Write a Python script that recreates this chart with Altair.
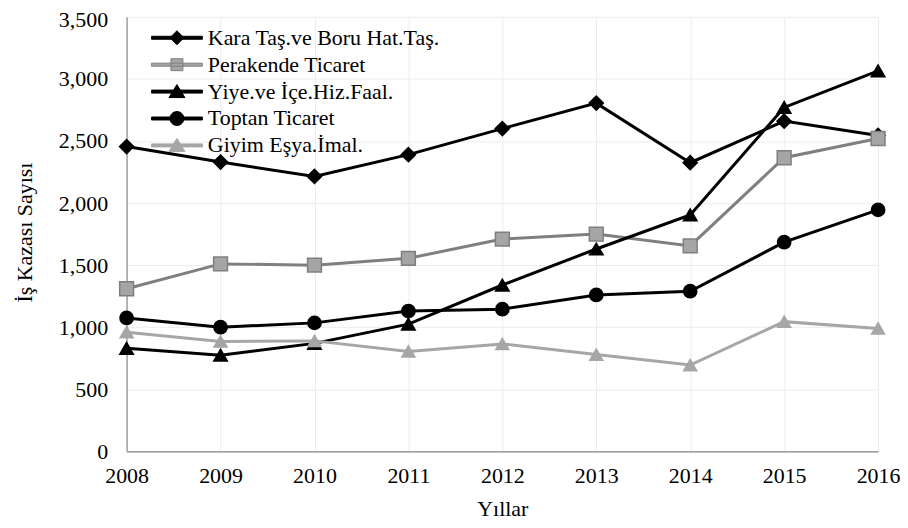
import altair as alt
import pandas as pd

years = [2008, 2009, 2010, 2011, 2012, 2013, 2014, 2015, 2016]
series_names = [
    "Kara Taş.ve Boru Hat.Taş.",
    "Perakende Ticaret",
    "Yiye.ve İçe.Hiz.Faal.",
    "Toptan Ticaret",
    "Giyim Eşya.İmal.",
]
kara = [2455, 2330, 2215, 2390, 2600, 2805, 2325, 2660, 2545]
perakende = [1310, 1510, 1500, 1555, 1710, 1750, 1655, 2365, 2520]
yiye = [830, 775, 870, 1025, 1340, 1630, 1905, 2770, 3065]
toptan = [1075, 1000, 1035, 1130, 1145, 1260, 1290, 1685, 1945]
giyim = [960, 885, 890, 805, 865, 780, 695, 1045, 990]
y_ticks = [0, 500, 1000, 1500, 2000, 2500, 3000, 3500]

line_colors = ["#000000", "#7f7f7f", "#000000", "#000000", "#a6a6a6"]
marker_fill = ["#000000", "#a5a5a5", "#000000", "#000000", "#a6a6a6"]
marker_stroke = ["#000000", "#7f7f7f", "#000000", "#000000", "#a6a6a6"]
marker_shapes = ["diamond", "square", "triangle-up", "circle", "triangle-up"]
marker_sizes = [200, 170, 300, 220, 250]

seg = "M-2.55,-0.15H2.55V0.15H-2.55Z "
legend_paths = [
    seg + "M0,-0.7L0.7,0L0,0.7L-0.7,0Z",
    seg + "M-0.6,-0.6H0.6V0.6H-0.6Z",
    seg + "M0,-0.7L0.8,0.6L-0.8,0.6Z",
    seg + "M-0.7,0A0.7,0.7 0 1,1 0.7,0A0.7,0.7 0 1,1 -0.7,0Z",
    seg + "M0,-0.7L0.8,0.6L-0.8,0.6Z",
]

rows = []
for name, vals in zip(series_names, [kara, perakende, yiye, toptan, giyim]):
    for yr, v in zip(years, vals):
        rows.append({"Yıl": yr, "Seri": name, "Sayı": v})
df = pd.DataFrame(rows)

FONT = "Liberation Serif"
FS = 22

x = alt.X(
    "Yıl:Q",
    scale=alt.Scale(domain=[2008, 2016], nice=False, zero=False),
    axis=alt.Axis(
        title="Yıllar", values=years, format="d", labelFlush=False,
        labelOverlap=False, labelPadding=14, titleY=57, titleBaseline="middle",
        domainColor="#868686", domainWidth=1.5,
    ),
)
y = alt.Y(
    "Sayı:Q",
    scale=alt.Scale(domain=[0, 3500], nice=False),
    axis=alt.Axis(
        title="İş Kazası Sayısı", values=y_ticks, format=",d", labelFlush=False,
        labelOverlap=False, labelPadding=19, titleX=-102, titleY=216,
        titleAlign="center", titleBaseline="middle", titleAngle=270,
        domainColor="#a0a0a0", domainWidth=1.5,
        labelOffset={"condition": {"test": "datum.value == 3500", "value": 3}, "value": 0},
    ),
)

base = alt.Chart(df)

lines = base.mark_line(strokeWidth=3).encode(
    x=x, y=y,
    color=alt.Color("Seri:N", scale=alt.Scale(domain=series_names, range=line_colors), legend=None),
)

points = base.mark_point(filled=True, opacity=1, strokeWidth=1.5).encode(
    x=x, y=y,
    shape=alt.Shape("Seri:N", scale=alt.Scale(domain=series_names, range=marker_shapes), legend=None),
    fill=alt.Fill("Seri:N", scale=alt.Scale(domain=series_names, range=marker_fill), legend=None),
    stroke=alt.Stroke("Seri:N", scale=alt.Scale(domain=series_names, range=marker_stroke), legend=None),
    size=alt.Size("Seri:N", scale=alt.Scale(domain=series_names, range=marker_sizes), legend=None),
)

leg = alt.Legend(
    orient="none", legendX=39.5, legendY=10, title=None,
    labelFont=FONT, labelFontSize=FS, labelColor="#000000", labelLimit=0,
    symbolSize=400, symbolStrokeWidth=1, symbolOpacity=1,
    labelOffset=20, rowPadding=5, padding=0,
)

legend_layer = base.mark_point(filled=True, opacity=1, strokeWidth=1).encode(
    x=x, y=y,
    shape=alt.Shape("Seri:N", scale=alt.Scale(domain=series_names, range=legend_paths), legend=leg),
    fill=alt.Fill("Seri:N", scale=alt.Scale(domain=series_names, range=marker_fill), legend=leg),
    stroke=alt.Stroke("Seri:N", scale=alt.Scale(domain=series_names, range=marker_stroke), legend=leg),
).transform_filter("false")

chart = (
    alt.layer(lines, points, legend_layer)
    .resolve_scale(color="independent", shape="independent", fill="independent",
                   stroke="independent", size="independent")
    .properties(
        width=754, height=436,
        autosize=alt.AutoSizeParams(type="none"),
        padding={"left": 119, "top": 8, "right": 22, "bottom": 72},
    )
    .configure_view(stroke=None)
    .configure_axis(
        labelFont=FONT, labelFontSize=FS, labelColor="#000000",
        titleFont=FONT, titleFontSize=FS, titleFontWeight="normal", titleColor="#000000",
        gridColor="#ececec", gridWidth=1, ticks=False, tickSize=0,
    )
)

chart.save("out.html", embed_options={"renderer": "svg", "actions": False})
